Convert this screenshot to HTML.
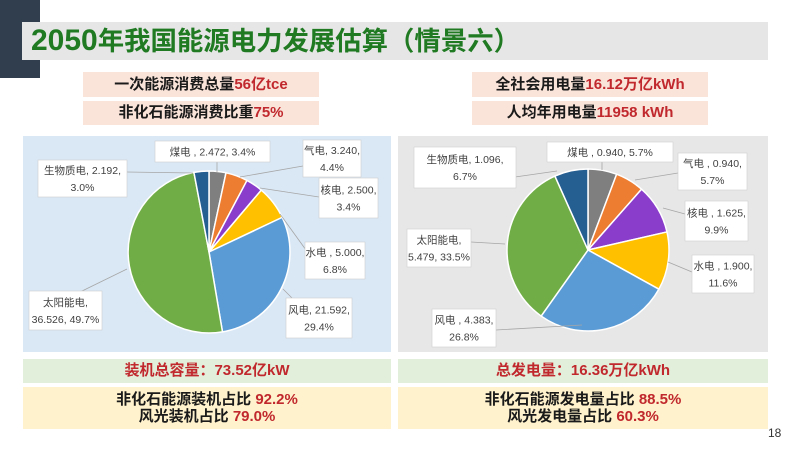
<!DOCTYPE html>
<html><head><meta charset="utf-8">
<style>
*{margin:0;padding:0;box-sizing:border-box}
body{width:800px;height:450px;background:#fff;position:relative;overflow:hidden;font-family:"Liberation Sans","Noto Sans CJK SC",sans-serif}
.abs{position:absolute}
.nav{left:0;top:0;width:40px;height:78px;background:#313e4e}
.band{left:22px;top:22px;width:746px;height:38px;background:#e6e6e6}
.title{left:31px;top:22px;height:38px;line-height:38px;font-size:26.4px;font-weight:bold;color:#1f7a22;white-space:nowrap}
.info{background:#fae3d9;font-size:15px;font-weight:bold;color:#1a1a1a;text-align:center;white-space:nowrap}
.red{color:#c0282d}
.g{background:#e2efda;font-size:15px;font-weight:bold;color:#c0282d;text-align:center;height:24px;line-height:24px}
.y{background:#fff2cc;font-size:15px;font-weight:bold;color:#1a1a1a;text-align:center;height:42px;padding-top:4px;line-height:17px}
</style></head><body>
<div class="abs nav"></div>
<div class="abs band"></div>
<div class="abs title"><span style="font-size:30px">2050</span>年我国能源电力发展估算（情景六）</div>

<div class="abs info" style="left:83px;top:72px;width:236px;height:25px;line-height:25px">一次能源消费总量<span class="red">56亿tce</span></div>
<div class="abs info" style="left:83px;top:101px;width:236px;height:24px;line-height:24px">非化石能源消费比重<span class="red">75%</span></div>
<div class="abs info" style="left:472px;top:72px;width:236px;height:25px;line-height:25px">全社会用电量<span class="red">16.12万亿kWh</span></div>
<div class="abs info" style="left:472px;top:101px;width:236px;height:24px;line-height:24px">人均年用电量<span class="red">11958 kWh</span></div>

<svg class="abs" style="left:0;top:0" width="800" height="450" viewBox="0 0 800 450" font-family="Liberation Sans, Noto Sans CJK SC, sans-serif" font-size="10.5" fill="#404040">
<rect x="23" y="136" width="368" height="216" fill="#dae8f5"/>
<rect x="398" y="136" width="370" height="216" fill="#e7e7e7"/>

<g stroke="#fff" stroke-width="1.5" stroke-linejoin="round">
<path d="M209,252 L209,171 A81,81 0 0 1 225.99,172.80 Z" fill="#7f7f7f"/>
<path d="M209,252 L225.99,172.80 A81,81 0 0 1 246.99,180.46 Z" fill="#ed7d31"/>
<path d="M209,252 L246.99,180.46 A81,81 0 0 1 261.29,190.14 Z" fill="#8a3ccb"/>
<path d="M209,252 L261.29,190.14 A81,81 0 0 1 282.22,217.38 Z" fill="#ffc000"/>
<path d="M209,252 L282.22,217.38 A81,81 0 0 1 222.49,331.87 Z" fill="#5b9bd5"/>
<path d="M209,252 L222.49,331.87 A81,81 0 0 1 193.92,172.42 Z" fill="#70ad47"/>
<path d="M209,252 L193.92,172.42 A81,81 0 0 1 209,171 Z" fill="#255e91"/>
</g>
<g stroke="#fff" stroke-width="1.5" stroke-linejoin="round">
<path d="M588,250 L588,169 A81,81 0 0 1 616.61,174.22 Z" fill="#7f7f7f"/>
<path d="M588,250 L616.61,174.22 A81,81 0 0 1 641.52,189.20 Z" fill="#ed7d31"/>
<path d="M588,250 L641.52,189.20 A81,81 0 0 1 666.96,231.94 Z" fill="#8a3ccb"/>
<path d="M588,250 L666.96,231.94 A81,81 0 0 1 658.90,289.17 Z" fill="#ffc000"/>
<path d="M588,250 L658.90,289.17 A81,81 0 0 1 541.14,316.07 Z" fill="#5b9bd5"/>
<path d="M588,250 L541.14,316.07 A81,81 0 0 1 554.91,176.07 Z" fill="#70ad47"/>
<path d="M588,250 L554.91,176.07 A81,81 0 0 1 588,169 Z" fill="#255e91"/>
</g>

<g stroke="#a6a6a6" stroke-width="0.8" fill="none">
<line x1="127" y1="172" x2="193" y2="173"/>
<line x1="217" y1="162" x2="217" y2="172"/>
<line x1="303" y1="166" x2="240" y2="177"/>
<line x1="319" y1="197" x2="260" y2="188"/>
<line x1="280" y1="214" x2="306" y2="250"/>
<line x1="283" y1="289" x2="292" y2="298"/>
<line x1="80" y1="292" x2="127" y2="269"/>
<line x1="515" y1="177" x2="557" y2="171"/>
<line x1="602" y1="162" x2="602" y2="170"/>
<line x1="678" y1="173" x2="635" y2="180"/>
<line x1="685" y1="214" x2="663" y2="208"/>
<line x1="692" y1="272" x2="668" y2="262"/>
<line x1="496" y1="330" x2="582" y2="325"/>
<line x1="471" y1="242" x2="505" y2="244"/>
</g>

<g fill="#fff" stroke="#cfcfcf" stroke-width="0.6">
<rect x="155" y="141" width="115" height="21"/>
<rect x="38" y="160" width="89" height="37"/>
<rect x="303" y="140" width="58" height="37"/>
<rect x="319" y="178" width="59" height="40"/>
<rect x="305" y="242" width="60" height="37"/>
<rect x="286" y="298" width="66" height="40"/>
<rect x="29" y="291" width="73" height="39"/>
<rect x="547" y="142" width="126" height="20"/>
<rect x="414" y="147" width="102" height="41"/>
<rect x="678" y="153" width="69" height="37"/>
<rect x="685" y="201" width="63" height="40"/>
<rect x="692" y="255" width="62" height="38"/>
<rect x="432" y="309" width="64" height="38"/>
<rect x="407" y="229" width="64" height="38"/>
</g>
<g text-anchor="middle">
<text x="212.5" y="155.5">煤电 , 2.472, 3.4%</text>
<text x="82.5" y="174">生物质电, 2.192,</text><text x="82.5" y="191">3.0%</text>
<text x="332" y="154">气电, 3.240,</text><text x="332" y="171">4.4%</text>
<text x="348.5" y="193.5">核电, 2.500,</text><text x="348.5" y="210.5">3.4%</text>
<text x="335" y="256">水电 , 5.000,</text><text x="335" y="273">6.8%</text>
<text x="319" y="313.5">风电, 21.592,</text><text x="319" y="330.5">29.4%</text>
<text x="65.5" y="306">太阳能电,</text><text x="65.5" y="323">36.526, 49.7%</text>

<text x="610" y="156">煤电 , 0.940, 5.7%</text>
<text x="465" y="163">生物质电, 1.096,</text><text x="465" y="180">6.7%</text>
<text x="712.5" y="167">气电 , 0.940,</text><text x="712.5" y="184">5.7%</text>
<text x="716.5" y="216.5">核电 , 1.625,</text><text x="716.5" y="233.5">9.9%</text>
<text x="723" y="269.5">水电 , 1.900,</text><text x="723" y="286.5">11.6%</text>
<text x="464" y="323.5">风电 , 4.383,</text><text x="464" y="340.5">26.8%</text>
<text x="439" y="243.5">太阳能电,</text><text x="439" y="260.5">5.479, 33.5%</text>
</g>
</svg>

<div class="abs g" style="left:23px;top:359px;width:368px">装机总容量：73.52亿kW</div>
<div class="abs y" style="left:23px;top:387px;width:368px">非化石能源装机占比 <span class="red">92.2%</span><br>风光装机占比 <span class="red">79.0%</span></div>
<div class="abs g" style="left:398px;top:359px;width:370px">总发电量：16.36万亿kWh</div>
<div class="abs y" style="left:398px;top:387px;width:370px">非化石能源发电量占比 <span class="red">88.5%</span><br>风光发电量占比 <span class="red">60.3%</span></div>
<div class="abs" style="left:768px;top:426px;font-size:12px;color:#333">18</div>
</body></html>
